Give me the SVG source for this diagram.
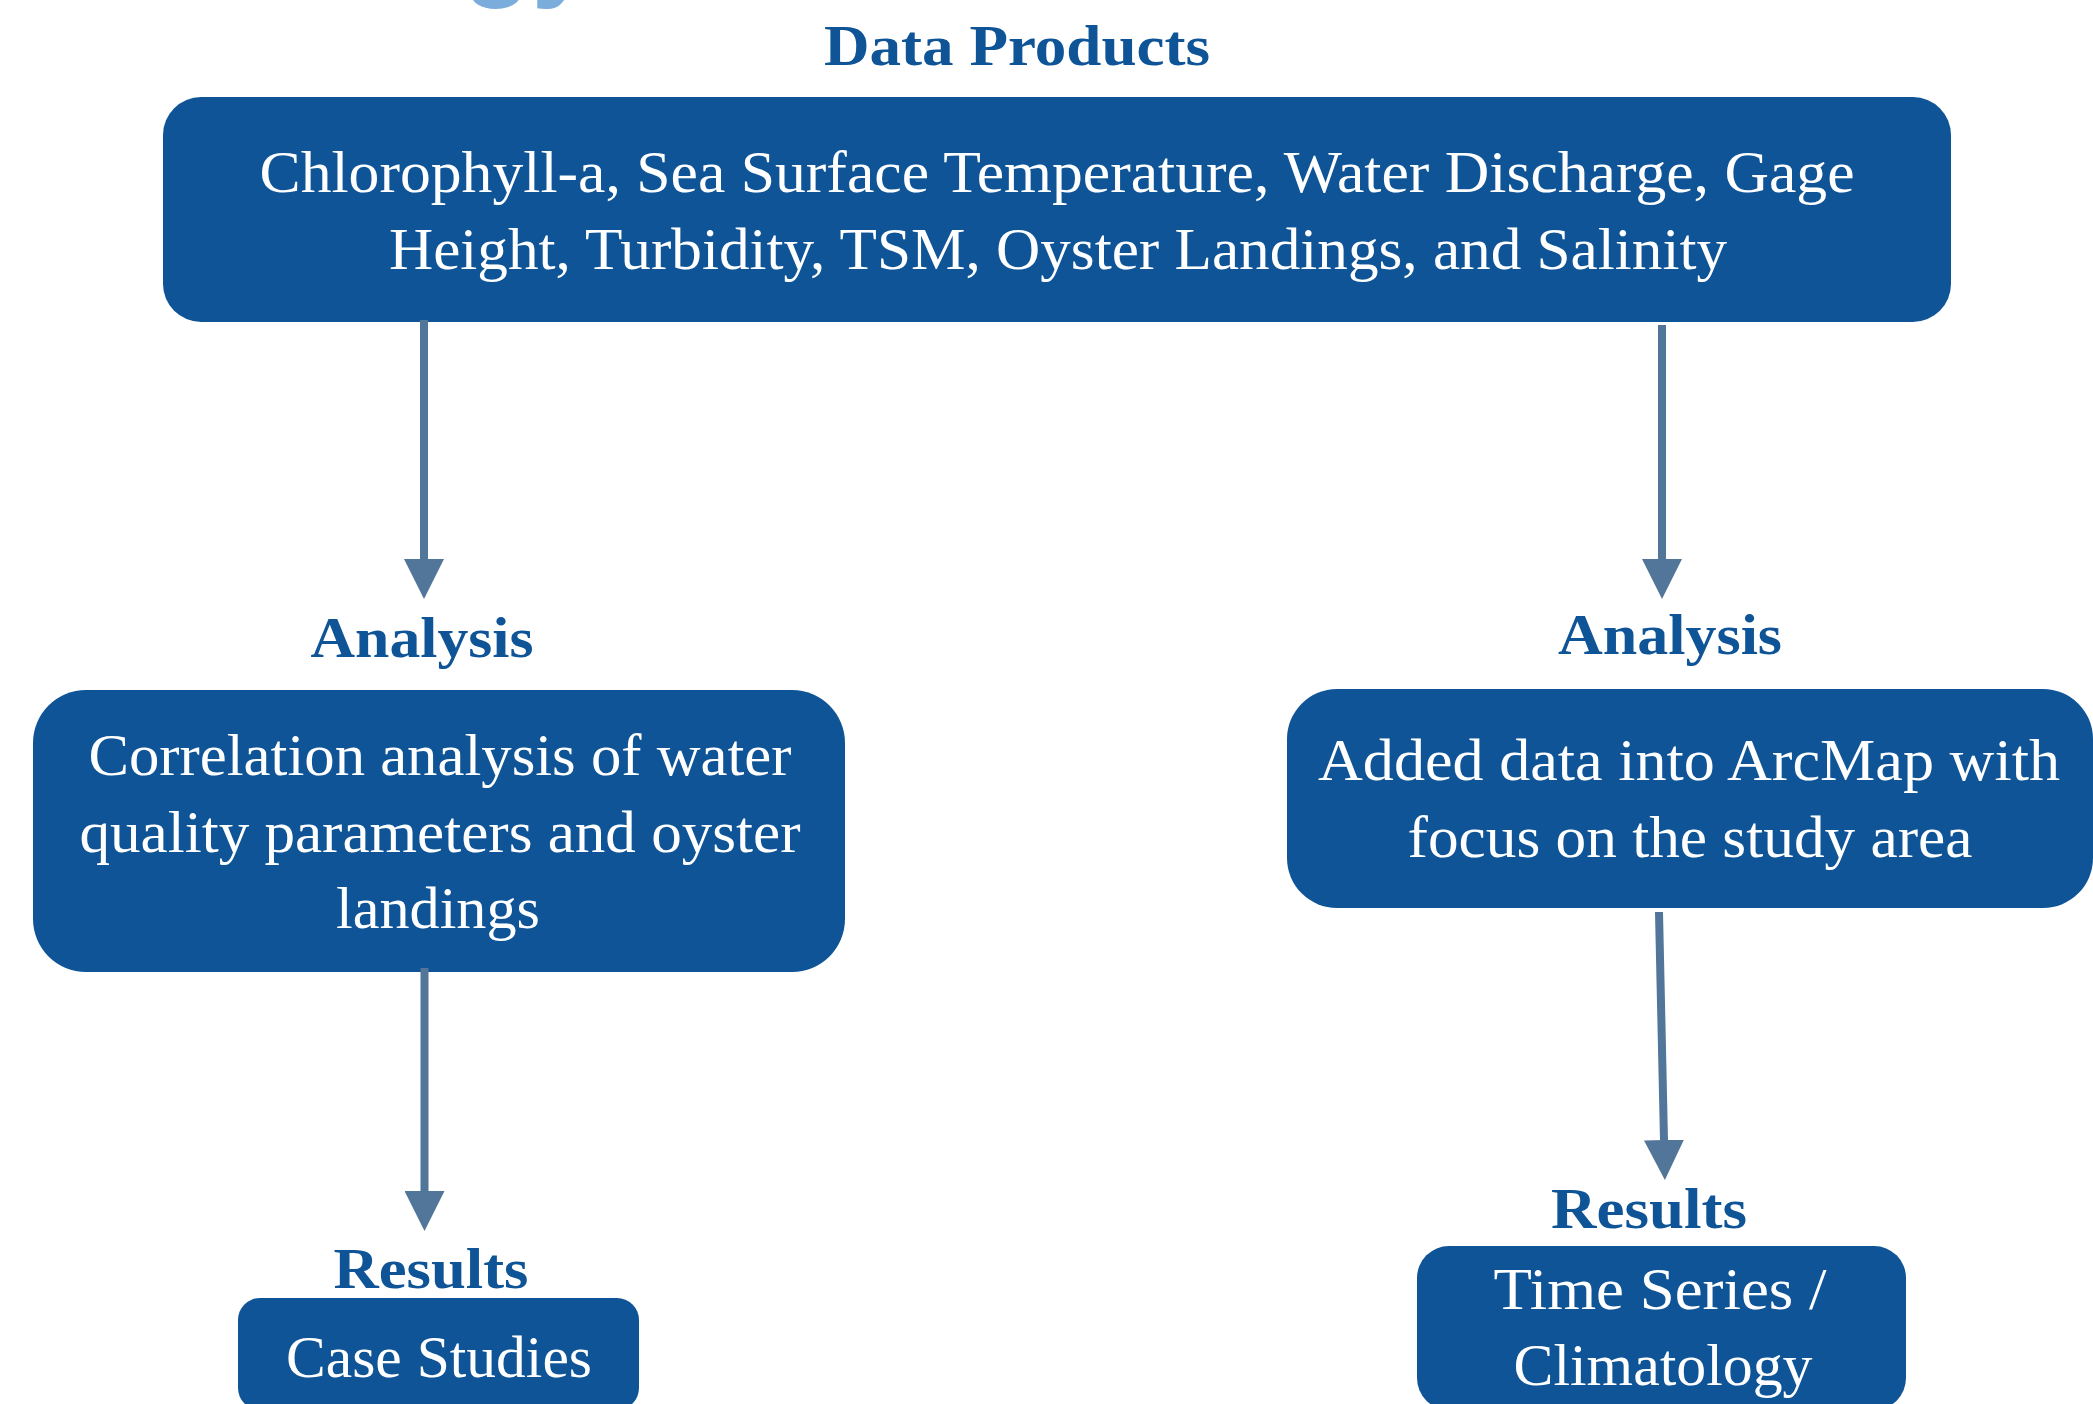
<svg xmlns="http://www.w3.org/2000/svg" width="2093" height="1404" viewBox="0 0 2093 1404">
  <style>
    .box { fill: #0e5496; }
    .body { font-family: "Liberation Serif", "DejaVu Serif", serif; font-size: 60px; fill: #ffffff; text-anchor: middle; }
    .head { font-family: "Liberation Serif", "DejaVu Serif", serif; font-size: 58px; font-weight: bold; fill: #0e5496; text-anchor: middle; }
    .conn { stroke: #52759a; stroke-width: 8; fill: none; }
  </style>
  <defs>
    <marker id="arrow" markerUnits="userSpaceOnUse" markerWidth="40" markerHeight="40" refX="0" refY="20" orient="auto" viewBox="0 0 40 40">
      <path d="M0,0 L40,20 L0,40 Z" fill="#52759a"/>
    </marker>
  </defs>
  <rect width="2093" height="1404" fill="#ffffff"/>

  <text x="463" y="-14" font-family="Liberation Sans, Arial, sans-serif" font-size="112" font-weight="bold" fill="#7aacdc">gy</text>

  <g id="data-products">
    <text class="head" x="1017" y="65" textLength="386" lengthAdjust="spacingAndGlyphs">Data Products</text>
    <rect class="box" x="163" y="97" width="1788" height="225" rx="38" ry="38"/>
    <text class="body" x="1057" y="192" textLength="1595" lengthAdjust="spacingAndGlyphs">Chlorophyll-a, Sea Surface Temperature, Water Discharge, Gage</text>
    <text class="body" x="1058" y="269" textLength="1338" lengthAdjust="spacingAndGlyphs">Height, Turbidity, TSM, Oyster Landings, and Salinity</text>
  </g>

  <g id="analysis-left">
    <text class="head" x="422" y="657" textLength="223" lengthAdjust="spacingAndGlyphs">Analysis</text>
    <rect class="box" x="33" y="690" width="812" height="282" rx="53" ry="53"/>
    <text class="body" x="440" y="775" textLength="703" lengthAdjust="spacingAndGlyphs">Correlation analysis of water</text>
    <text class="body" x="440" y="852" textLength="721" lengthAdjust="spacingAndGlyphs">quality parameters and oyster</text>
    <text class="body" x="438" y="928" textLength="204" lengthAdjust="spacingAndGlyphs">landings</text>
  </g>

  <g id="analysis-right">
    <text class="head" x="1670" y="654" textLength="224" lengthAdjust="spacingAndGlyphs">Analysis</text>
    <rect class="box" x="1287" y="689" width="806" height="219" rx="50" ry="50"/>
    <text class="body" x="1689" y="780" textLength="742" lengthAdjust="spacingAndGlyphs">Added data into ArcMap with</text>
    <text class="body" x="1690" y="857" textLength="565" lengthAdjust="spacingAndGlyphs">focus on the study area</text>
  </g>

  <g id="results-left">
    <text class="head" x="431" y="1288" textLength="195" lengthAdjust="spacingAndGlyphs">Results</text>
    <rect class="box" x="238" y="1298" width="401" height="112" rx="22" ry="22"/>
    <text class="body" x="439" y="1377" textLength="306" lengthAdjust="spacingAndGlyphs">Case Studies</text>
  </g>

  <g id="results-right">
    <text class="head" x="1649" y="1228" textLength="196" lengthAdjust="spacingAndGlyphs">Results</text>
    <rect class="box" x="1417" y="1246" width="489" height="164" rx="32" ry="32"/>
    <text class="body" x="1660" y="1309" textLength="333" lengthAdjust="spacingAndGlyphs">Time Series /</text>
    <text class="body" x="1663" y="1385" textLength="299" lengthAdjust="spacingAndGlyphs">Climatology</text>
  </g>

  <g id="connectors">
    <line class="conn" x1="424" y1="320" x2="424" y2="559" marker-end="url(#arrow)"/>
    <line class="conn" x1="1662" y1="325" x2="1662" y2="559" marker-end="url(#arrow)"/>
    <line class="conn" x1="424.5" y1="968" x2="424.5" y2="1191" marker-end="url(#arrow)"/>
    <line class="conn" x1="1659" y1="912" x2="1664" y2="1140" marker-end="url(#arrow)"/>
  </g>
</svg>
